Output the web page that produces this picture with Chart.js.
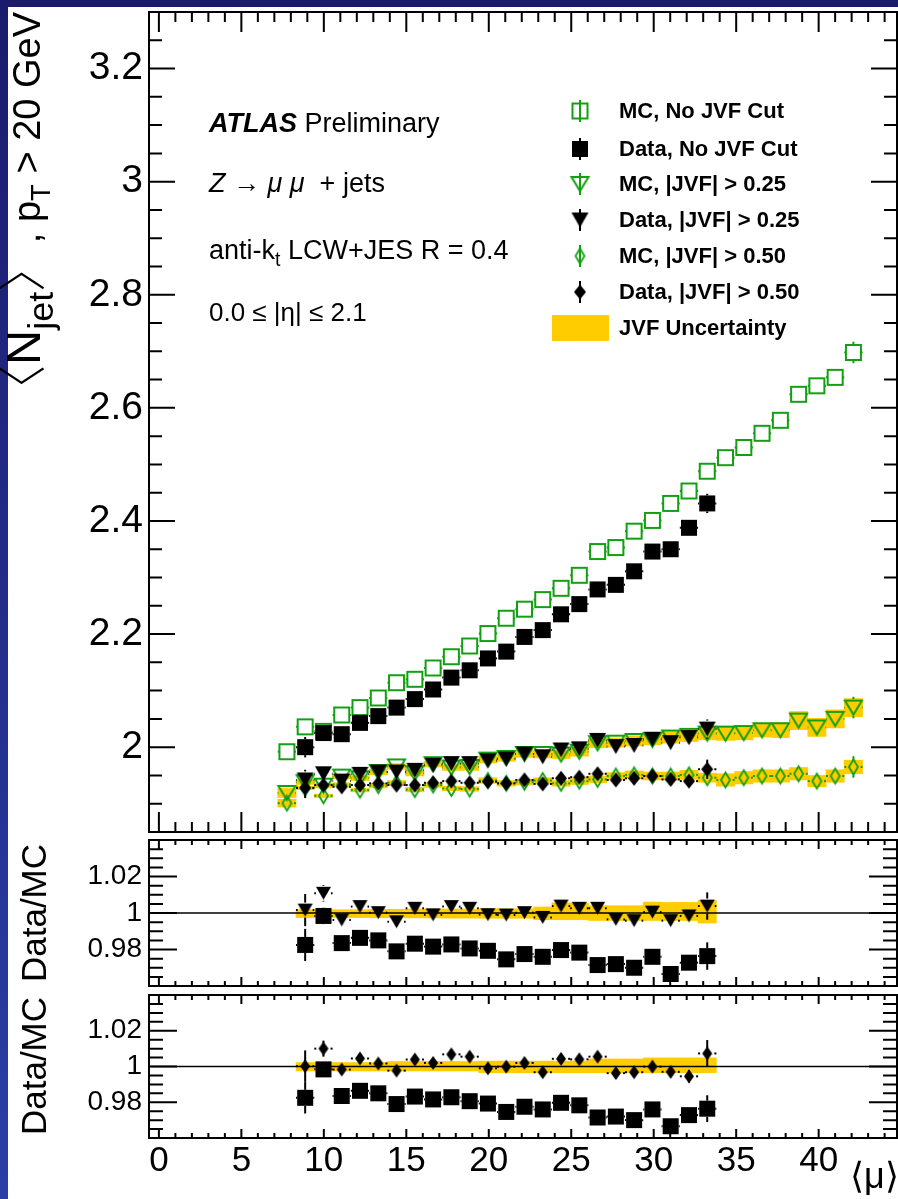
<!DOCTYPE html>
<html lang="en">
<head>
<meta charset="utf-8">
<title>Average jet multiplicity vs pile-up</title>
<script src="https://cdn.jsdelivr.net/npm/chart.js@4.4.0/dist/chart.umd.min.js"></script>
<style>
  html, body { margin: 0; padding: 0; background: #fff; }
  body { position: relative; width: 898px; height: 1199px; overflow: hidden;
         font-family: "Liberation Sans", Arial, Helvetica, sans-serif; color: #000; }
  .edge-top { position: absolute; left: 0; top: 0; width: 898px; height: 7px; background: #1b1b6c; }
  .edge-left { position: absolute; left: 0; top: 0; width: 8px; height: 1199px;
               background: linear-gradient(#1b1b6c, #2a3fa6); }
  canvas { position: absolute; left: 0; }
  #main { top: 0; }
  #ratio25 { top: 836px; }
  #ratio50 { top: 990px; }
  .txt { position: absolute; white-space: nowrap; line-height: 1; }
  .ytitle { position: absolute; white-space: nowrap; line-height: 1; text-align: right;
            transform: rotate(-90deg); transform-origin: 0 0; }
  sub { font-size: 72%; vertical-align: -0.35em; line-height: 0; }
  .njet { font-size: 128%; line-height: 0; }
  .njet sub { font-size: 74%; }
  .br { font-family: "Noto Sans CJK SC", "DejaVu Sans", sans-serif; font-weight: 300; }
  .legrow { position: absolute; left: 540px; height: 36px; width: 300px; }
  .legrow canvas { position: absolute; left: 0; top: 0; }
  .legrow span { position: absolute; left: 79px; top: 7px; font-size: 22px; font-weight: bold; line-height: 1; white-space: nowrap; }
</style>
</head>
<body>
<div class="edge-left"></div>
<div class="edge-top"></div>

<canvas id="main" width="898" height="836"></canvas>
<canvas id="ratio25" width="898" height="154"></canvas>
<canvas id="ratio50" width="898" height="209"></canvas>

<div class="ytitle" style="left:8px;top:420px;width:408px;font-size:38px"><span class="njet"><span class="br">〈</span>N<sub>jet</sub><span class="br">〉</span></span>, p<sub>T</sub> &gt; 20 GeV</div>
<div class="ytitle" style="left:16px;top:1013px;width:200px;font-size:35px;text-align:center">Data/MC</div>
<div class="ytitle" style="left:16px;top:1166px;width:200px;font-size:35px;text-align:center">Data/MC</div>
<div class="txt" style="left:850px;top:1158px;font-size:36px">⟨μ⟩</div>

<div class="txt" style="left:209px;top:110px;font-size:27px"><b><i>ATLAS</i></b> Preliminary</div>
<div class="txt" style="left:209px;top:170px;font-size:27px"><i>Z</i> → <i>μ μ</i>&nbsp;&nbsp;+ jets</div>
<div class="txt" style="left:209px;top:237px;font-size:27px">anti-k<sub>t</sub> LCW+JES R = 0.4</div>
<div class="txt" style="left:209px;top:299px;font-size:26px">0.0 ≤ |η| ≤ 2.1</div>

<div id="legend"></div>

<script>
Chart.defaults.font.family = '"Liberation Sans", Arial, Helvetica, sans-serif';
Chart.defaults.color = '#000';

const GREEN = '#12a012';
const GOLD = '#ffcc00';

// <mu> bin centres (32 bins), half width of a bin
const muBins = [7.760, 8.868, 9.976, 11.084, 12.192, 13.300, 14.408, 15.516, 16.624, 17.732,
  18.840, 19.948, 21.056, 22.164, 23.272, 24.380, 25.488, 26.596, 27.704, 28.812,
  29.920, 31.028, 32.136, 33.244, 34.352, 35.460, 36.568, 37.676, 38.784, 39.892,
  41.000, 42.108];
const binHalfWidth = 0.554;

// simulation, all 32 bins
const mcNoCut = [1.992, 2.036, 2.028, 2.057, 2.070, 2.087, 2.114, 2.120, 2.140, 2.160,
  2.179, 2.201, 2.228, 2.244, 2.261, 2.281, 2.304, 2.346, 2.353, 2.382,
  2.401, 2.431, 2.453, 2.488, 2.512, 2.530, 2.555, 2.578, 2.624, 2.639,
  2.654, 2.698];
const mcJvf25 = [1.919, 1.938, 1.932, 1.948, 1.945, 1.956, 1.966, 1.954, 1.970, 1.964,
  1.965, 1.978, 1.981, 1.988, 1.988, 1.987, 1.992, 2.007, 2.008, 2.011,
  2.013, 2.017, 2.020, 2.024, 2.024, 2.025, 2.030, 2.030, 2.047, 2.035,
  2.050, 2.070];
const mcJvf50 = [1.901, 1.928, 1.914, 1.934, 1.924, 1.932, 1.937, 1.925, 1.933, 1.927,
  1.926, 1.941, 1.936, 1.938, 1.941, 1.936, 1.940, 1.943, 1.949, 1.951,
  1.949, 1.949, 1.951, 1.946, 1.942, 1.946, 1.949, 1.949, 1.953, 1.940,
  1.949, 1.965];
const mcErr = [0.004, 0.002, 0.002, 0.002, 0.002, 0.002, 0.002, 0.002, 0.002, 0.002,
  0.002, 0.002, 0.002, 0.002, 0.002, 0.002, 0.002, 0.003, 0.003, 0.003,
  0.003, 0.003, 0.004, 0.004, 0.004, 0.005, 0.005, 0.006, 0.008, 0.008,
  0.009, 0.019];
// JVF systematic, half width of the band
const jvf25Unc = [0.008, 0.004, 0.004, 0.004, 0.004, 0.005, 0.005, 0.005, 0.005, 0.005,
  0.006, 0.006, 0.006, 0.006, 0.007, 0.007, 0.008, 0.008, 0.008, 0.009,
  0.009, 0.010, 0.010, 0.011, 0.012, 0.012, 0.012, 0.013, 0.016, 0.016,
  0.016, 0.016];
const jvf50Unc = [0.007, 0.003, 0.003, 0.003, 0.003, 0.004, 0.004, 0.004, 0.004, 0.004,
  0.004, 0.005, 0.005, 0.005, 0.005, 0.005, 0.006, 0.006, 0.006, 0.007,
  0.007, 0.007, 0.008, 0.008, 0.011, 0.011, 0.011, 0.011, 0.011, 0.010,
  0.011, 0.012];

// data, bins 1..23
const dataMu = muBins.slice(1, 24);
const dataNoCut = [2.000, 2.025, 2.023, 2.043, 2.055, 2.070, 2.085, 2.102, 2.123, 2.136,
  2.157, 2.169, 2.195, 2.207, 2.235, 2.253, 2.279, 2.287, 2.311, 2.346,
  2.350, 2.388, 2.431];
const dataJvf25 = [1.942, 1.953, 1.940, 1.952, 1.956, 1.956, 1.959, 1.968, 1.971, 1.971,
  1.976, 1.979, 1.988, 1.983, 1.995, 1.997, 2.012, 2.001, 2.003, 2.014,
  2.008, 2.017, 2.032];
const dataJvf50 = [1.928, 1.933, 1.930, 1.933, 1.936, 1.933, 1.933, 1.937, 1.940, 1.937,
  1.939, 1.936, 1.942, 1.935, 1.945, 1.947, 1.953, 1.942, 1.945, 1.949,
  1.943, 1.940, 1.961];
const dataErr = [0.018, 0.009, 0.004, 0.004, 0.004, 0.004, 0.004, 0.004, 0.004, 0.004,
  0.004, 0.004, 0.004, 0.004, 0.004, 0.004, 0.005, 0.005, 0.005, 0.006,
  0.006, 0.007, 0.017];

// Data/MC ratios, bins 1..23
const ratioNoCut = [0.9825, 0.9984, 0.9835, 0.9864, 0.9850, 0.9790, 0.9832, 0.9816, 0.9828, 0.9806,
  0.9793, 0.9746, 0.9775, 0.9760, 0.9797, 0.9783, 0.9715, 0.9720, 0.9700, 0.9760,
  0.9666, 0.9728, 0.9764];
const ratioJvf25 = [1.0016, 1.0108, 0.9962, 1.0035, 1.0002, 0.9952, 1.0026, 0.9990, 1.0035, 1.0026,
  0.9991, 0.9989, 1.0002, 0.9976, 1.0038, 1.0026, 1.0026, 0.9965, 0.9958, 1.0005,
  0.9958, 0.9984, 1.0038];
const ratioJvf50 = [1.0002, 1.0100, 0.9983, 1.0045, 1.0017, 0.9977, 1.0039, 1.0020, 1.0068, 1.0055,
  0.9990, 0.9999, 1.0020, 0.9968, 1.0043, 1.0040, 1.0055, 0.9963, 0.9968, 0.9999,
  0.9970, 0.9945, 1.0073];
const ratioErr = [0.0088, 0.0045, 0.0020, 0.0020, 0.0020, 0.0020, 0.0020, 0.0020, 0.0020, 0.0020,
  0.0020, 0.0020, 0.0020, 0.0020, 0.0020, 0.0020, 0.0025, 0.0025, 0.0025, 0.0030,
  0.0030, 0.0035, 0.0075];
const ratio25UncUp = [0.0018, 0.0018, 0.0018, 0.0018, 0.0020, 0.0020, 0.0022, 0.0022, 0.0022, 0.0022,
  0.0023, 0.0023, 0.0023, 0.0033, 0.0055, 0.0055, 0.0040, 0.0040, 0.0040, 0.0060,
  0.0058, 0.0058, 0.0068];
const ratio25UncDn = [0.0025, 0.0025, 0.0025, 0.0025, 0.0026, 0.0026, 0.0027, 0.0027, 0.0028, 0.0028,
  0.0029, 0.0029, 0.0029, 0.0037, 0.0037, 0.0037, 0.0041, 0.0041, 0.0041, 0.0041,
  0.0041, 0.0041, 0.0055];
const ratio50UncUp = [0.0022, 0.0022, 0.0022, 0.0022, 0.0022, 0.0028, 0.0028, 0.0028, 0.0028, 0.0028,
  0.0030, 0.0030, 0.0030, 0.0030, 0.0030, 0.0030, 0.0042, 0.0042, 0.0042, 0.0048,
  0.0048, 0.0048, 0.0048];
const ratio50UncDn = [0.0025, 0.0025, 0.0025, 0.0025, 0.0025, 0.0025, 0.0025, 0.0025, 0.0025, 0.0025,
  0.0035, 0.0035, 0.0035, 0.0035, 0.0035, 0.0035, 0.0035, 0.0035, 0.0035, 0.0035,
  0.0035, 0.0035, 0.0035];
const ratioRef = 1;

// axes
const xMin = -0.6, xMax = 44.75;
const xTicks = [0, 5, 10, 15, 20, 25, 30, 35, 40];
const xTickLabels = ['0', '5', '10', '15', '20', '25', '30', '35', '40'];
const mainYTicks = [2, 2.2, 2.4, 2.6, 2.8, 3, 3.2];
const mainYLabels = ['2', '2.2', '2.4', '2.6', '2.8', '3', '3.2'];
const ratioYTicks = [0.98, 1, 1.02];
const ratioYLabels = ['0.98', '1', '1.02'];

function steps(from, to, step) {
  const out = [];
  for (let v = from; v <= to + 1e-9; v += step) out.push(+v.toFixed(4));
  return out;
}

// ROOT-like marker drawn into a small canvas, used as pointStyle
function makeMarker(shape, w, h, fill, stroke, lw) {
  const pad = 5;
  const c = document.createElement('canvas');
  c.width = Math.ceil(w) + 2 * pad;
  c.height = Math.ceil(h) + 2 * pad;
  const g = c.getContext('2d');
  g.translate(c.width / 2, c.height / 2);
  g.beginPath();
  if (shape === 'square') {
    g.rect(-w / 2, -h / 2, w, h);
  } else if (shape === 'triangle') {
    g.moveTo(-w / 2, -h / 2); g.lineTo(w / 2, -h / 2); g.lineTo(0, h / 2); g.closePath();
  } else {
    g.moveTo(0, -h / 2); g.lineTo(w / 2, 0); g.lineTo(0, h / 2); g.lineTo(-w / 2, 0); g.closePath();
  }
  if (fill) { g.fillStyle = fill; g.fill(); }
  if (stroke) { g.lineWidth = lw; g.strokeStyle = stroke; g.stroke(); }
  c.gap = Math.max(w, h) / 2;   // error bars stop at the marker edge
  return c;
}

const mk = {
  mcSquare: makeMarker('square', 15, 15, null, GREEN, 2),
  dataSquare: makeMarker('square', 16, 16, '#000'),
  mcTri: makeMarker('triangle', 17, 14, null, GREEN, 2),
  dataTri: makeMarker('triangle', 17, 15, '#000'),
  mcDia: makeMarker('diamond', 9, 15, null, GREEN, 1.8),
  dataDia: makeMarker('diamond', 12, 15, '#000'),
  rSquare: makeMarker('square', 16, 16, '#000'),
  rTri: makeMarker('triangle', 15, 13, '#000'),
  rDia: makeMarker('diamond', 10, 14, '#000')
};
mk.mcDia.gap = 6; mk.dataDia.gap = 6; mk.rDia.gap = 5;

function pts(xs, ys) {
  return xs.map((x, i) => ({ x: x, y: ys[i] }));
}
function bandAround(xs, centre, lo, hi) {
  return xs.map((x, i) => ({ x: x, y: [centre[i] - lo[i], centre[i] + hi[i]] }));
}

function markers(label, xs, ys, style, errColor, errY, order) {
  return { type: 'scatter', label: label, data: pts(xs, ys), pointStyle: style,
           pointRadius: 8, errColor: errColor, errY: errY, order: order };
}
function band(label, data, order) {
  return { type: 'bar', label: label, data: data, backgroundColor: GOLD, borderWidth: 0,
           barPercentage: 1, categoryPercentage: 1, grouped: false, order: order };
}

// horizontal (dotted) and vertical error bars, drawn just under each marker set
const errorBars = {
  id: 'errorBars',
  beforeDatasetDraw(chart, args) {
    const ds = chart.data.datasets[args.index];
    if (!ds.errColor) return;
    const { ctx, chartArea: a } = chart;
    const xs = chart.scales.x, ys = chart.scales.y;
    const gap = ds.pointStyle.gap || 0;
    const seg = (x1, y1, x2, y2) => { ctx.beginPath(); ctx.moveTo(x1, y1); ctx.lineTo(x2, y2); ctx.stroke(); };
    ctx.save();
    ctx.beginPath();
    ctx.rect(a.left, a.top, a.right - a.left, a.bottom - a.top);
    ctx.clip();
    ctx.strokeStyle = ds.errColor;
    ctx.lineWidth = 2;
    ds.data.forEach((p, i) => {
      const px = xs.getPixelForValue(p.x);
      const py = ys.getPixelForValue(p.y);
      const xl = xs.getPixelForValue(p.x - binHalfWidth);
      const xr = xs.getPixelForValue(p.x + binHalfWidth);
      ctx.setLineDash([2, 3]);
      if (xl < px - gap) seg(xl, py, px - gap, py);
      if (xr > px + gap) seg(xr, py, px + gap, py);
      if (ds.errY) {
        const yt = ys.getPixelForValue(p.y + ds.errY[i]);
        const yb = ys.getPixelForValue(p.y - ds.errY[i]);
        ctx.setLineDash([]);
        if (yt < py - gap) seg(px, yt, px, py - gap);
        if (yb > py + gap) seg(px, yb, px, py + gap);
      }
    });
    ctx.restore();
  }
};

// closed frame with inward ticks on all four sides
const frameTicks = {
  id: 'frameTicks',
  afterDatasetsDraw(chart, args, o) {
    const { ctx, chartArea: a } = chart;
    const xs = chart.scales.x, ys = chart.scales.y;
    ctx.save();
    ctx.strokeStyle = '#000';
    ctx.lineWidth = 2;
    ctx.beginPath();
    const tx = (v, len) => {
      const p = xs.getPixelForValue(v);
      ctx.moveTo(p, a.bottom); ctx.lineTo(p, a.bottom - len);
      ctx.moveTo(p, a.top); ctx.lineTo(p, a.top + len);
    };
    const ty = (v, len) => {
      const p = ys.getPixelForValue(v);
      ctx.moveTo(a.left, p); ctx.lineTo(a.left + len, p);
      ctx.moveTo(a.right, p); ctx.lineTo(a.right - len, p);
    };
    o.xMinor.forEach(v => tx(v, o.xLen[1]));
    o.xMajor.forEach(v => tx(v, o.xLen[0]));
    o.yMinor.forEach(v => ty(v, o.yLen[1]));
    o.yMajor.forEach(v => ty(v, o.yLen[0]));
    ctx.stroke();
    ctx.strokeRect(a.left, a.top, a.right - a.left, a.bottom - a.top);
    ctx.restore();
  }
};

function xScale(show) {
  return {
    type: 'linear', min: xMin, max: xMax, offset: false, display: show,
    afterBuildTicks: s => { s.ticks = xTicks.map(v => ({ value: v })); },
    afterFit: s => {
      if (show) s.height = 61;
      s.paddingLeft = 0; s.paddingRight = 0;
    },
    grid: { display: false, drawTicks: false }, border: { display: false },
    ticks: { autoSkip: false, maxRotation: 0, padding: 2, font: { size: 35 },
             callback: (v, i) => xTickLabels[i] }
  };
}
function yScale(min, max, ticks, labels, size, pad) {
  return {
    type: 'linear', min: min, max: max,
    afterBuildTicks: s => { s.ticks = ticks.map(v => ({ value: v })); },
    afterFit: s => { s.width = 149; s.paddingTop = 0; s.paddingBottom = 0; },
    grid: { display: false, drawTicks: false }, border: { display: false },
    ticks: { autoSkip: false, padding: pad, font: { size: size },
             callback: (v, i) => labels[i] }
  };
}
function baseOptions(padding, frame, showX, y) {
  return {
    responsive: false, animation: false, events: [],
    layout: { padding: padding, autoPadding: false },
    plugins: { legend: { display: false }, tooltip: { enabled: false }, frameTicks: frame },
    scales: { x: xScale(showX), y: y }
  };
}

const xMinorTicks = steps(0, 44, 1).filter(v => v % 5 !== 0);

// main panel
new Chart(document.getElementById('main'), {
  type: 'scatter',
  data: {
    datasets: [
      band('JVF Uncertainty', bandAround(muBins, mcJvf25, jvf25Unc, jvf25Unc), 10),
      band('JVF Uncertainty', bandAround(muBins, mcJvf50, jvf50Unc, jvf50Unc), 10),
      markers('MC, |JVF| > 0.25', muBins, mcJvf25, mk.mcTri, GREEN, mcErr, 7),
      markers('MC, |JVF| > 0.50', muBins, mcJvf50, mk.mcDia, GREEN, mcErr, 6),
      markers('Data, |JVF| > 0.25', dataMu, dataJvf25, mk.dataTri, '#000', dataErr, 5),
      markers('Data, |JVF| > 0.50', dataMu, dataJvf50, mk.dataDia, '#000', dataErr, 4),
      markers('MC, No JVF Cut', muBins, mcNoCut, mk.mcSquare, GREEN, mcErr, 3),
      markers('Data, No JVF Cut', dataMu, dataNoCut, mk.dataSquare, '#000', dataErr, 2)
    ]
  },
  options: baseOptions({ top: 12, right: 1, bottom: 4, left: 0 }, {
      xMajor: xTicks, xMinor: xMinorTicks, xLen: [20, 10],
      yMajor: mainYTicks, yMinor: steps(1.85, 3.3, 0.05), yLen: [26, 13]
    }, false, yScale(1.85, 3.3, mainYTicks, mainYLabels, 39, 6)),
  plugins: [errorBars, frameTicks]
});

function ratioChart(id, ratio, marker, up, dn, padding, showX) {
  return new Chart(document.getElementById(id), {
    type: 'scatter',
    data: {
      datasets: [
        band('JVF Uncertainty', dataMu.map((x, i) => ({ x: x, y: [ratioRef - dn[i], ratioRef + up[i]] })), 10),
        { type: 'line', data: [{ x: xMin, y: ratioRef }, { x: xMax, y: ratioRef }], showLine: true,
          borderColor: '#000', borderWidth: 1.5, pointRadius: 0, order: 5 },
        markers('Data/MC', dataMu, ratio, marker, '#000', ratioErr, 3),
        markers('Data/MC, No JVF Cut', dataMu, ratioNoCut, mk.rSquare, '#000', ratioErr, 2)
      ]
    },
    options: baseOptions(padding, {
        xMajor: xTicks, xMinor: xMinorTicks, xLen: [9, 5],
        yMajor: ratioYTicks, yMinor: steps(0.96, 1.04, 0.005), yLen: [28, 14]
      }, showX, yScale(0.96, 1.04, ratioYTicks, ratioYLabels, 28, 7)),
    plugins: [errorBars, frameTicks]
  });
}

ratioChart('ratio25', ratioJvf25, mk.rTri, ratio25UncUp, ratio25UncDn,
           { top: 4, right: 1, bottom: 4, left: 0 }, false);
ratioChart('ratio50', ratioJvf50, mk.rDia, ratio50UncUp, ratio50UncDn,
           { top: 5, right: 1, bottom: 0, left: 0 }, true);

// legend (HTML rows, markers drawn with the same marker canvases)
const legendRows = [
  { label: 'MC, No JVF Cut', y: 111, mark: mk.mcSquare, color: GREEN },
  { label: 'Data, No JVF Cut', y: 149, mark: mk.dataSquare, color: '#000' },
  { label: 'MC, |JVF| > 0.25', y: 184, mark: mk.mcTri, color: GREEN },
  { label: 'Data, |JVF| > 0.25', y: 220, mark: mk.dataTri, color: '#000' },
  { label: 'MC, |JVF| > 0.50', y: 256, mark: mk.mcDia, color: GREEN },
  { label: 'Data, |JVF| > 0.50', y: 292, mark: mk.dataDia, color: '#000' },
  { label: 'JVF Uncertainty', y: 328, fill: GOLD }
];
const legend = document.getElementById('legend');
legendRows.forEach(r => {
  const row = document.createElement('div');
  row.className = 'legrow';
  row.style.top = (r.y - 18) + 'px';
  const c = document.createElement('canvas');
  c.width = 80; c.height = 36;
  const g = c.getContext('2d');
  if (r.fill) {
    g.fillStyle = r.fill;
    g.fillRect(12, 5, 57, 26);
  } else {
    g.strokeStyle = r.color;
    g.lineWidth = 2;
    g.beginPath(); g.moveTo(40, 7); g.lineTo(40, 29); g.stroke();
    g.drawImage(r.mark, 40 - r.mark.width / 2, 18 - r.mark.height / 2);
  }
  const t = document.createElement('span');
  t.textContent = r.label;
  row.appendChild(c);
  row.appendChild(t);
  legend.appendChild(row);
});
</script>
</body>
</html>
